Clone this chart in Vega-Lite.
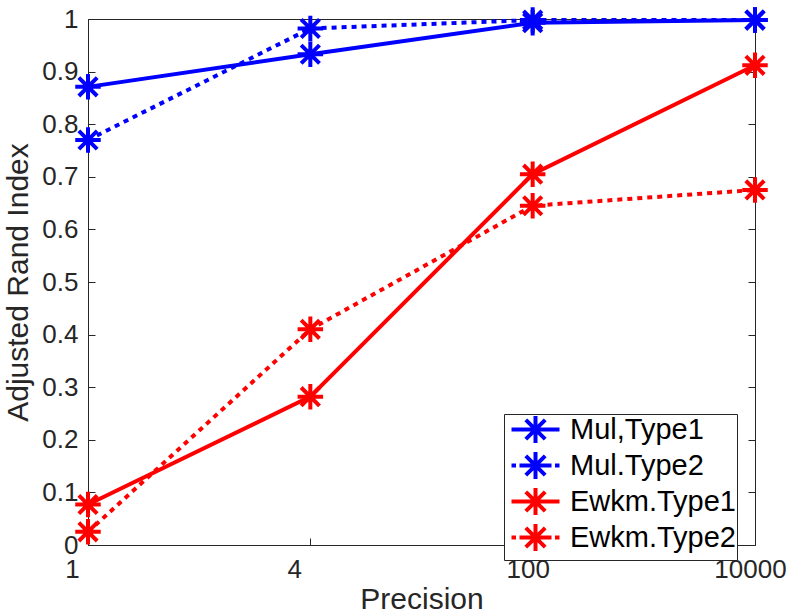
{
  "$schema": "https://vega.github.io/schema/vega-lite/v6.json",
  "width": 667,
  "height": 526,
  "autosize": "none",
  "padding": {"left": 88, "top": 19, "right": 45, "bottom": 69},
  "background": "white",
  "config": {
    "view": {"stroke": null},
    "font": "Liberation Sans",
    "axis": {"grid": false, "domainColor": "#262626", "tickColor": "#262626", "labelColor": "#262626", "titleColor": "#262626", "labelFont": "Liberation Sans", "titleFont": "Liberation Sans", "titleFontWeight": "normal"}
  },
  "data": {
    "values": [
      {"series": "Mul,Type1", "Precision": 1, "ARI": 0.871},
      {"series": "Mul,Type1", "Precision": 4, "ARI": 0.933},
      {"series": "Mul,Type1", "Precision": 100, "ARI": 0.993},
      {"series": "Mul,Type1", "Precision": 10000, "ARI": 0.998},
      {"series": "Mul.Type2", "Precision": 1, "ARI": 0.77},
      {"series": "Mul.Type2", "Precision": 4, "ARI": 0.982},
      {"series": "Mul.Type2", "Precision": 100, "ARI": 0.998},
      {"series": "Mul.Type2", "Precision": 10000, "ARI": 0.998},
      {"series": "Ewkm.Type1", "Precision": 1, "ARI": 0.077},
      {"series": "Ewkm.Type1", "Precision": 4, "ARI": 0.282},
      {"series": "Ewkm.Type1", "Precision": 100, "ARI": 0.705},
      {"series": "Ewkm.Type1", "Precision": 10000, "ARI": 0.912},
      {"series": "Ewkm.Type2", "Precision": 1, "ARI": 0.025},
      {"series": "Ewkm.Type2", "Precision": 4, "ARI": 0.41},
      {"series": "Ewkm.Type2", "Precision": 100, "ARI": 0.645},
      {"series": "Ewkm.Type2", "Precision": 10000, "ARI": 0.675}
    ]
  },
  "resolve": {"axis": {"x": "independent", "y": "independent"}},
  "encoding": {
    "x": {"field": "Precision", "type": "ordinal", "sort": [1, 4, 100, 10000], "scale": {"type": "point", "padding": 0}, "axis": null},
    "y": {"field": "ARI", "type": "quantitative", "scale": {"domain": [0, 1], "nice": false}, "axis": null}
  },
  "layer": [
    {
      "transform": [{"filter": "datum.series == 'Mul,Type1'"}],
      "mark": {"type": "line", "strokeWidth": 4, "strokeCap": "butt", "color": "#0000ff", "clip": false},
      "encoding": {
        "x": {"field": "Precision", "type": "ordinal", "sort": [1, 4, 100, 10000],
          "axis": {"orient": "bottom", "title": "Precision", "titleFontSize": 30, "titlePadding": 2, "labelAngle": 0, "labelFontSize": 26, "tickSize": -7, "labelPadding": 18,
            "labelOffset": {"condition": {"test": "datum.value <= 4", "value": -16}, "value": -5}}},
        "y": {"field": "ARI", "type": "quantitative",
          "axis": {"orient": "left", "title": "Adjusted Rand Index", "titleFontSize": 30, "titlePadding": 8, "labelFontSize": 26, "tickSize": -7, "labelPadding": 17,
            "values": [0, 0.1, 0.2, 0.3, 0.4, 0.5, 0.6, 0.7, 0.8, 0.9, 1], "format": "~g"}}
      }
    },
    {
      "transform": [{"filter": "datum.series == 'Mul.Type2'"}],
      "mark": {"type": "line", "strokeWidth": 4, "strokeCap": "butt", "strokeDash": [5, 5], "color": "#0000ff", "clip": false},
      "encoding": {}
    },
    {
      "transform": [{"filter": "datum.series == 'Ewkm.Type1'"}],
      "mark": {"type": "line", "strokeWidth": 4, "strokeCap": "butt", "color": "#ff0000", "clip": false},
      "encoding": {}
    },
    {
      "transform": [{"filter": "datum.series == 'Ewkm.Type2'"}],
      "mark": {"type": "line", "strokeWidth": 4, "strokeCap": "butt", "strokeDash": [5, 5], "color": "#ff0000", "clip": false},
      "encoding": {}
    },
    {
      "transform": [{"filter": "indexof(datum.series, 'Mul') == 0"}],
      "mark": {"type": "point", "filled": false, "strokeWidth": 4, "size": 650, "opacity": 1, "color": "#0000ff", "clip": false,
        "shape": "M-1,0H1M0,-1V1M-0.72,-0.72L0.72,0.72M-0.72,0.72L0.72,-0.72"},
      "encoding": {
        "x": {"field": "Precision", "type": "ordinal", "sort": [1, 4, 100, 10000],
          "axis": {"orient": "top", "title": null, "labels": false, "tickSize": -7}},
        "y": {"field": "ARI", "type": "quantitative",
          "axis": {"orient": "right", "title": null, "labels": false, "tickSize": -7, "values": [0, 0.1, 0.2, 0.3, 0.4, 0.5, 0.6, 0.7, 0.8, 0.9, 1]}}
      }
    },
    {
      "transform": [{"filter": "indexof(datum.series, 'Ewkm') == 0"}],
      "mark": {"type": "point", "filled": false, "strokeWidth": 4, "size": 650, "opacity": 1, "color": "#ff0000", "clip": false,
        "shape": "M-1,0H1M0,-1V1M-0.72,-0.72L0.72,0.72M-0.72,0.72L0.72,-0.72"},
      "encoding": {}
    },
    {
      "mark": {"type": "point", "filled": false, "strokeWidth": 4, "opacity": 0, "clip": false},
      "encoding": {
        "color": {"field": "series", "type": "nominal",
          "scale": {"domain": ["Mul,Type1", "Mul.Type2", "Ewkm.Type1", "Ewkm.Type2"], "range": ["#0000ff", "#0000ff", "#ff0000", "#ff0000"]},
          "legend": {"orient": "none", "legendX": 416, "legendY": 395, "title": null, "symbolSize": 400, "symbolStrokeWidth": 4, "symbolOpacity": 1, "symbolFillColor": "transparent",
            "labelFontSize": 29, "labelFont": "Liberation Sans", "labelColor": "black", "labelLimit": 400, "labelExpr": "datum.label + '\u00a0'", "padding": 1, "rowPadding": -20, "symbolOffset": 16, "labelOffset": 20,
            "strokeColor": "#262626", "fillColor": "white"}},
        "shape": {"field": "series", "type": "nominal",
          "scale": {"domain": ["Mul,Type1", "Mul.Type2", "Ewkm.Type1", "Ewkm.Type2"],
            "range": [
              "M-2.4,0H2.4M0,-1.35V1.35M-0.97,-0.97L0.97,0.97M-0.97,0.97L0.97,-0.97",
              "M-2.4,0H-1.95M-1.6,0H1.6M0,-1.35V1.35M-0.97,-0.97L0.97,0.97M-0.97,0.97L0.97,-0.97M1.95,0H2.4",
              "M-2.4,0H2.4M0,-1.35V1.35M-0.97,-0.97L0.97,0.97M-0.97,0.97L0.97,-0.97",
              "M-2.4,0H-1.95M-1.6,0H1.6M0,-1.35V1.35M-0.97,-0.97L0.97,0.97M-0.97,0.97L0.97,-0.97M1.95,0H2.4"
            ]},
          "legend": {"orient": "none", "legendX": 416, "legendY": 395, "title": null, "symbolSize": 400, "symbolStrokeWidth": 4, "symbolOpacity": 1, "symbolFillColor": "transparent",
            "labelFontSize": 29, "labelFont": "Liberation Sans", "labelColor": "black", "labelLimit": 400, "labelExpr": "datum.label + '\u00a0'", "padding": 1, "rowPadding": -20, "symbolOffset": 16, "labelOffset": 20,
            "strokeColor": "#262626", "fillColor": "white"}}
      }
    }
  ]
}
